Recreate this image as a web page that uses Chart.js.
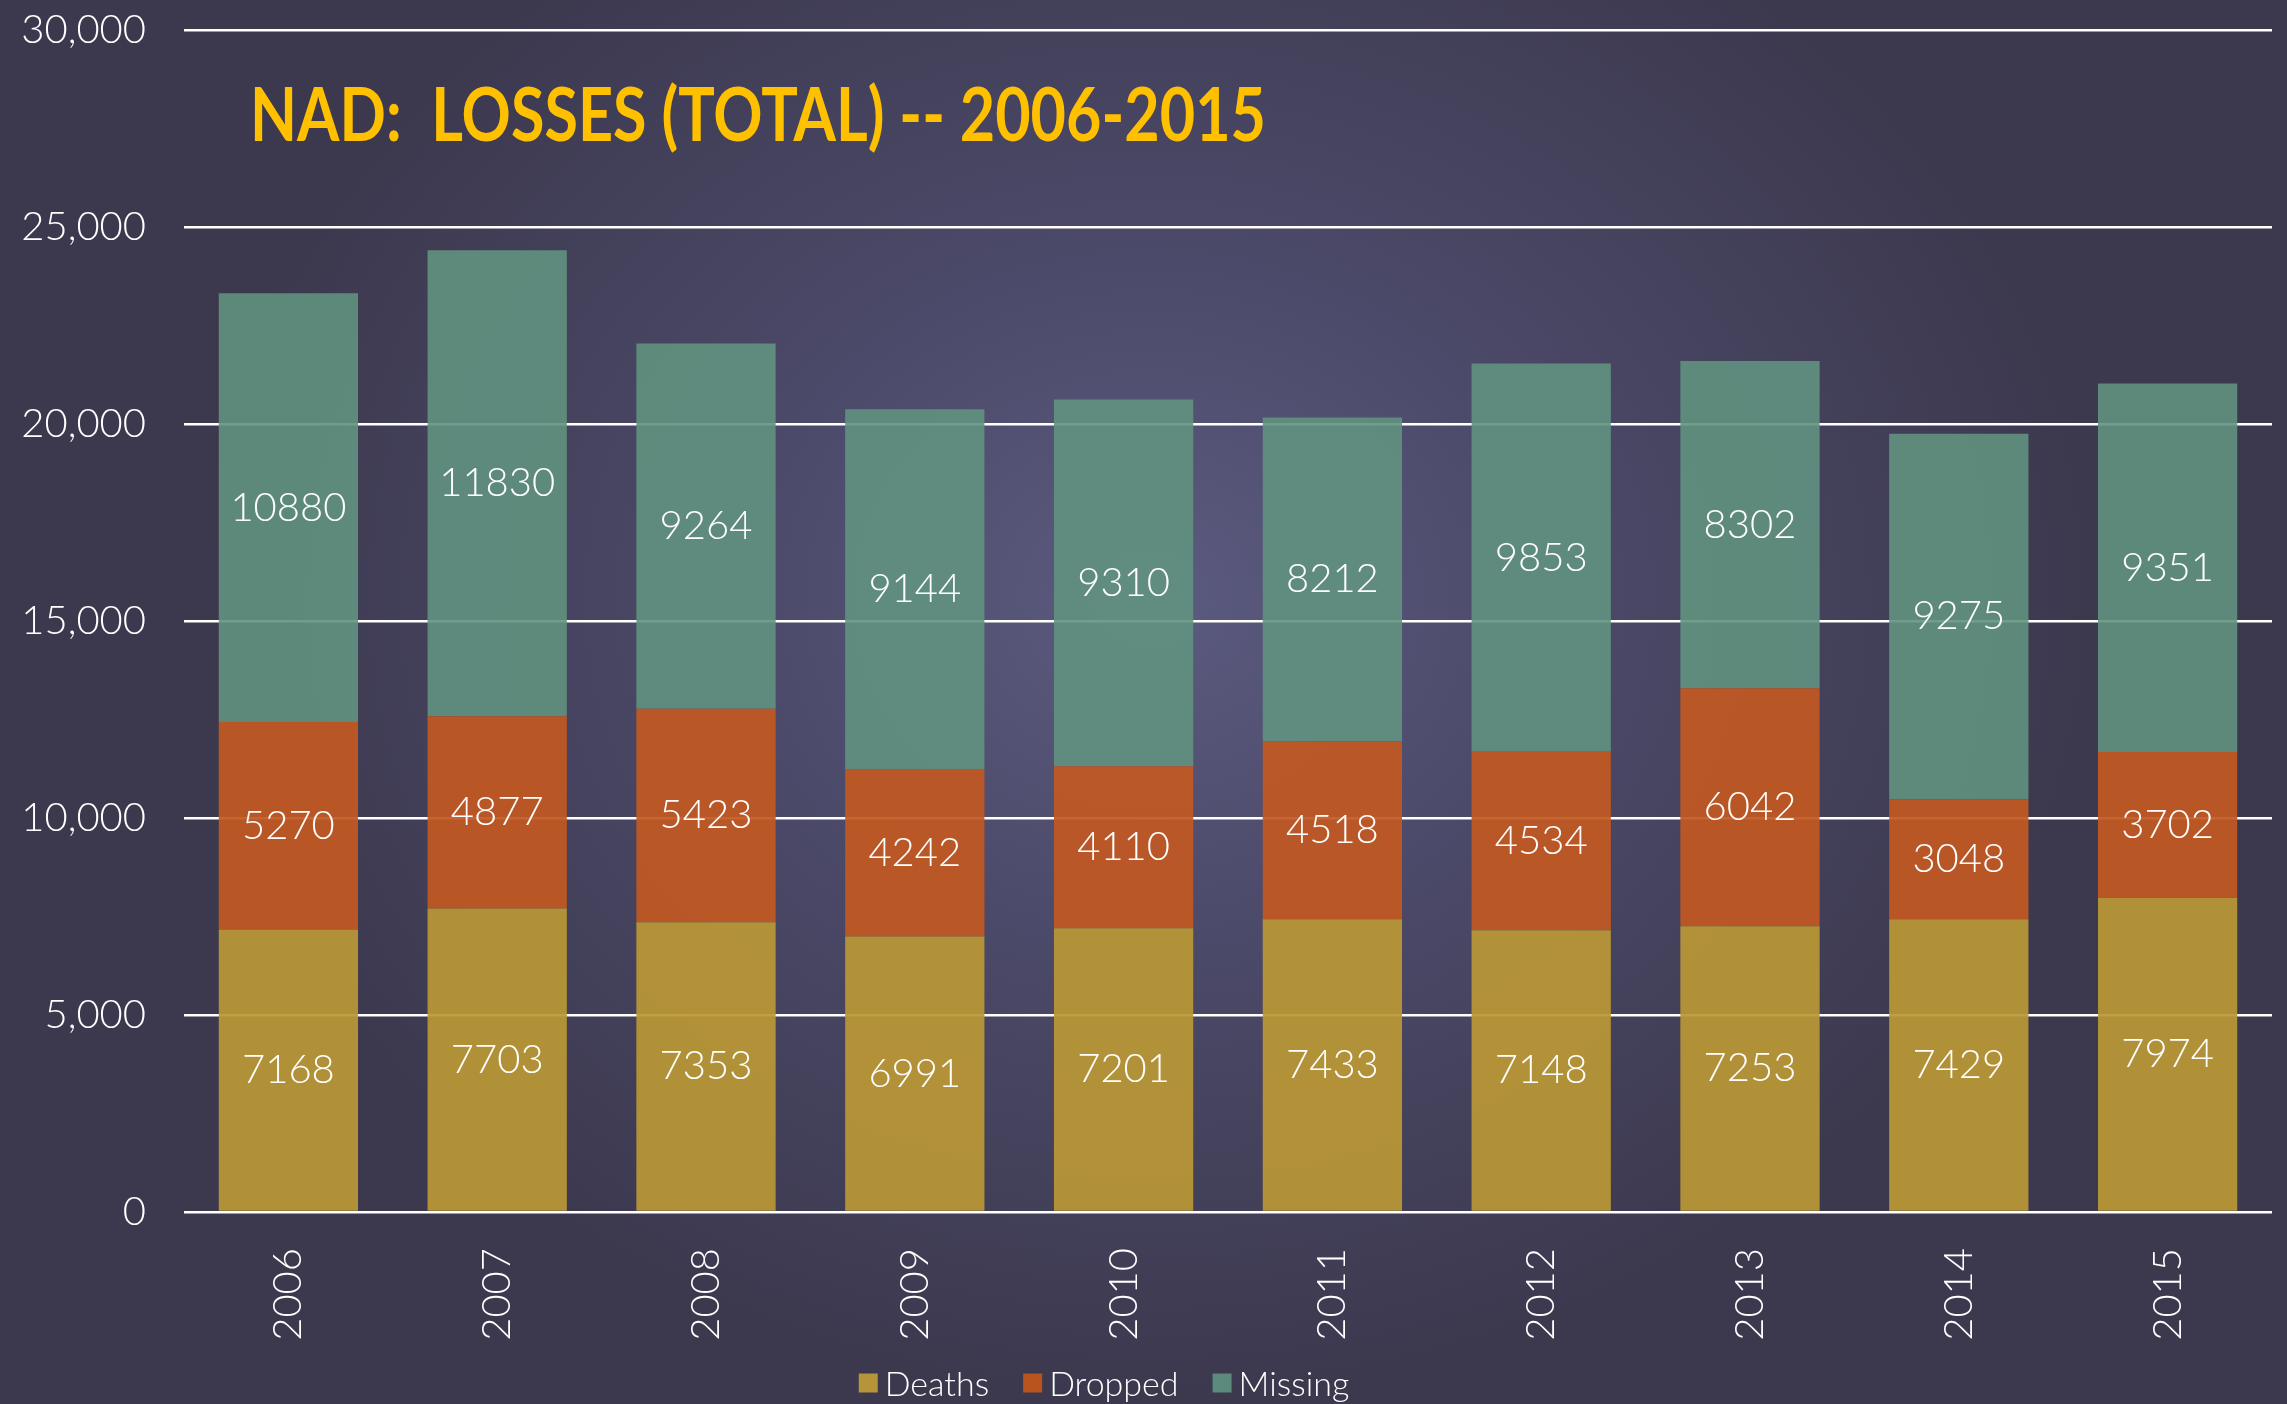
<!DOCTYPE html>
<html>
<head>
<meta charset="utf-8">
<script src="https://cdn.jsdelivr.net/npm/chart.js@4.4.0/dist/chart.umd.min.js"></script>
<style>
  body{margin:0;width:2287px;height:1404px;overflow:hidden;position:relative;
    background:radial-gradient(ellipse 950px 800px at 1150px 600px,#5b5b80 0%,#4b4968 45%,#3c384e 100%);}
  /* chart.js keeps a fixed gap above the top tick, so the canvas is lifted by it */
  canvas{display:block;position:absolute;left:0;top:-32px;}
</style>
</head>
<body>
<canvas id="lossChart" width="2287" height="1436"></canvas>
<script>
// data
const years=['2006','2007','2008','2009','2010','2011','2012','2013','2014','2015'];
const deaths=[7168,7703,7353,6991,7201,7433,7148,7253,7429,7974];
const dropped=[5270,4877,5423,4242,4110,4518,4534,6042,3048,3702];
const missing=[10880,11830,9264,9144,9310,8212,9853,8302,9275,9351];
const seriesNames=['Deaths','Dropped','Missing'];
const yMax=30000;
const yStep=5000;
const chartTitle='NAD:  LOSSES (TOTAL) -- 2006-2015';

// colours
const barColors=['rgba(186,152,54,0.93)','rgba(194,88,34,0.93)','rgba(96,146,128,0.9)'];
const keyColors=['#b5943a','#b9541f','#5c8a7c'];

const shiftY=32; // canvas offset against the page

Chart.defaults.font.family='Lato, "Open Sans", sans-serif';
Chart.defaults.color='#ffffff';

// numbers in the middle of each segment
const segmentLabels={
    id:'segmentLabels',
    afterDatasetsDraw(chart){
        const ctx=chart.ctx;
        ctx.save();
        ctx.font='300 40px Lato';
        ctx.fillStyle='#ffffff';
        ctx.textAlign='center';
        ctx.textBaseline='middle';
        chart.data.datasets.forEach((ds,i)=>{
            chart.getDatasetMeta(i).data.forEach((bar,j)=>{
                ctx.fillText(String(ds.data[j]),bar.x,(bar.y+bar.base)/2);
            });
        });
        ctx.restore();
    }
};

// title sits inside the plot, legend under the year labels
const titleAndKey={
    id:'titleAndKey',
    afterDraw(chart){
        const ctx=chart.ctx;
        ctx.save();
        // title
        ctx.font='bold 74px Lato';
        ctx.fillStyle='#ffc000';
        ctx.textBaseline='alphabetic';
        const w=ctx.measureText(chartTitle).width;
        const sx=1016/w;
        ctx.translate(250,141+shiftY);
        ctx.scale(sx,1);
        ctx.fillText(chartTitle,0,0);
        ctx.restore();

        // legend
        ctx.save();
        ctx.font='300 34px Lato';
        ctx.textBaseline='middle';
        const box=19, gapIn=7, gapOut=34;
        let total=0;
        const widths=seriesNames.map(n=>ctx.measureText(n).width);
        widths.forEach((tw,i)=>{total+=box+gapIn+tw+(i<widths.length-1?gapOut:0);});
        let x=1104-total/2;
        const yMid=1383+shiftY;
        seriesNames.forEach((n,i)=>{
            ctx.fillStyle=keyColors[i];
            ctx.fillRect(x,yMid-box/2,box,box);
            x+=box+gapIn;
            ctx.fillStyle='#ffffff';
            ctx.fillText(n,x,yMid+2);
            x+=widths[i]+gapOut;
        });
        ctx.restore();
    }
};

const config={
    type:'bar',
    data:{
        labels:years,
        datasets:[
            {label:seriesNames[0],data:deaths,backgroundColor:barColors[0]},
            {label:seriesNames[1],data:dropped,backgroundColor:barColors[1]},
            {label:seriesNames[2],data:missing,backgroundColor:barColors[2]}
        ]
    },
    options:{
        responsive:false,
        animation:false,
        layout:{padding:{top:0,right:15,left:0,bottom:0}},
        datasets:{bar:{barPercentage:0.667,categoryPercentage:1}},
        scales:{
            x:{
                stacked:true,
                grid:{display:false},
                border:{display:false},
                ticks:{color:'#ffffff',font:{size:40,weight:300},minRotation:90,maxRotation:90,padding:28},
                afterFit(scale){scale.height=192;}
            },
            y:{
                stacked:true,
                min:0,max:yMax,
                grid:{color:'#ffffff',lineWidth:2.5,drawTicks:false},
                border:{display:false},
                ticks:{color:'#ffffff',font:{size:40,weight:300},stepSize:yStep,padding:38,
                    callback:v=>v.toLocaleString('en-US')},
                afterFit(scale){scale.width=184;}
            }
        },
        plugins:{
            legend:{display:false},
            tooltip:{enabled:false}
        }
    },
    plugins:[segmentLabels,titleAndKey]
};

new Chart(document.getElementById('lossChart').getContext('2d'),config);
</script>
</body>
</html>
